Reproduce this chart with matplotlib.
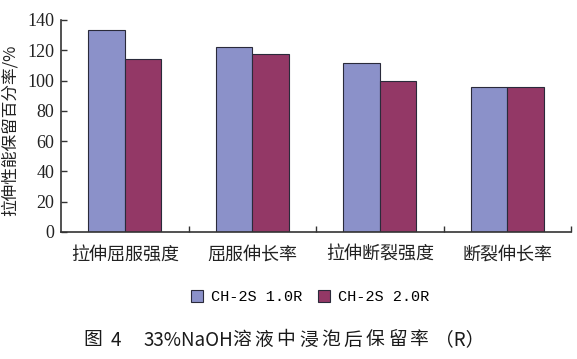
import matplotlib
matplotlib.use("Agg")
import matplotlib.pyplot as plt
import numpy as np

categories = ["拉伸屈服强度", "屈服伸长率", "拉伸断裂强度", "断裂伸长率"]
series_names = ["CH-2S 1.0R", "CH-2S 2.0R"]
s1 = [133.5, 122, 111.5, 96]
s2 = [114, 117.5, 100, 95.5]
yticks = [0, 20, 40, 60, 80, 100, 120, 140]
ylabel = "拉伸性能保留百分率/%"
caption_parts = ["图", "4", "33%NaOH", "溶", "液", "中", "浸", "泡", "后", "保", "留", "率", "（R）"]

cjk = ["Noto Sans CJK SC", "DejaVu Sans"]
serif = ["Liberation Serif", "DejaVu Serif"]
mono = ["Liberation Mono", "DejaVu Sans Mono"]

W, H = 577, 359
fig = plt.figure(figsize=(W/100, H/100), dpi=100)
ax = fig.add_axes([61/W, 1-232/H, (571-61)/W, 212/H])

x = np.arange(len(categories))
w = 0.285
c1 = "#8b91c9"
c2 = "#933866"
ax.bar(x - w/2, s1, w, color=c1, edgecolor="#2a2a3a", linewidth=0.8, label=series_names[0])
ax.bar(x + w/2, s2, w, color=c2, edgecolor="#2a2a3a", linewidth=0.8, label=series_names[1])

ax.set_xlim(-0.5, len(categories) - 0.5)
ax.set_ylim(0, 140)
ax.set_yticks(yticks)
ax.set_yticklabels([str(v) for v in yticks], family=serif, fontsize=13, color="#222222")
ax.set_xticks(np.arange(len(categories)) + 0.5)
ax.set_xticklabels([])
ax.tick_params(axis="y", direction="in", length=4, width=1, color="#333333", pad=5)
ax.tick_params(axis="x", direction="in", length=4, width=1, color="#333333")
for i, c in enumerate(categories):
    ax.text(i, -15, c, ha="center", va="center", family=cjk, fontsize=13, color="#222222")

for s in ["top", "right"]:
    ax.spines[s].set_visible(False)
for s in ["left", "bottom"]:
    ax.spines[s].set_color("#333333")
    ax.spines[s].set_linewidth(1.2)

fig.text(10/W, 1-130/H, ylabel, rotation=90, ha="center", va="center",
         family=cjk, fontsize=12, color="#222222")

leg = fig.legend(loc="center", bbox_to_anchor=(310/W, 1-297/H), ncol=2, frameon=False,
                 prop={"family": mono, "size": 11}, handlelength=0.8, handleheight=0.8,
                 handletextpad=0.5, columnspacing=1.0)

# caption, letter-spaced as in the reference
cap_x = [83, 111, 143, 232, 254.3, 276.6, 298.9, 321.2, 343.5, 365.8, 388.1, 410.4, 435]
for px, t in zip(cap_x, caption_parts):
    fig.text(px/W, 1-340/H, t, ha="left", va="center", family=cjk, fontsize=13.5,
             weight="medium", color="#1a1a1a")

fig.savefig("out.png", dpi=100)
